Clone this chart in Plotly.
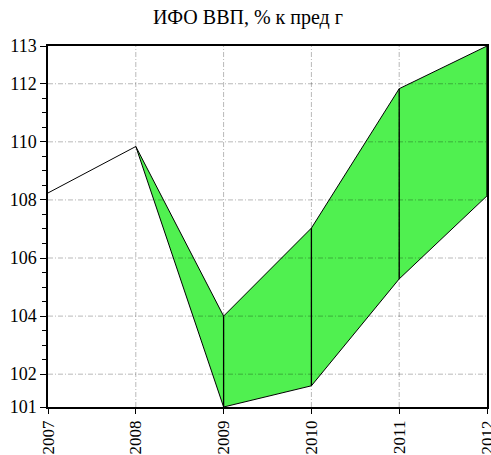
import numpy as np
import plotly.graph_objects as go

years = [2007, 2008, 2009, 2010, 2011, 2012]
upper = [108.24, 109.84, 104.0, 107.03, 111.83, 113.3]
band_years = [2008, 2009, 2010, 2011, 2012]
lower = [109.84, 100.87, 101.6, 105.28, 108.14]

y_min, y_max = min(lower), max(upper)
y_grid = [102, 104, 106, 108, 110, 112]
y_tickvals = [y_min] + y_grid + [y_max]
y_ticktext = ["101", "102", "104", "106", "108", "110", "112", "113"]
x_ticks = years
x_grid = [2008, 2009, 2010, 2011]

GREEN = "rgb(80,240,80)"
FONT = "Liberation Serif, Times New Roman, serif"
GRID = dict(color="rgba(0,0,0,0.28)", width=1, dash="5px,2px,1px,2px")

fig = go.Figure()
fig.add_trace(go.Scatter(x=band_years, y=lower, mode="lines",
                         line=dict(color="black", width=1), showlegend=False,
                         hoverinfo="skip"))
fig.add_trace(go.Scatter(x=band_years, y=upper[1:], mode="lines",
                         line=dict(color="black", width=1), fill="tonexty",
                         fillcolor=GREEN, showlegend=False, hoverinfo="skip"))
fig.add_trace(go.Scatter(x=years[:2], y=upper[:2], mode="lines",
                         line=dict(color="black", width=1), showlegend=False,
                         hoverinfo="skip"))
for yr, lo, up in zip(band_years[1:], lower[1:], upper[2:]):
    fig.add_trace(go.Scatter(x=[yr, yr], y=[lo, up], mode="lines",
                             line=dict(color="black", width=1.3),
                             showlegend=False, hoverinfo="skip"))

for gv in y_grid:
    fig.add_shape(type="line", xref="paper", x0=0, x1=1, yref="y", y0=gv, y1=gv,
                  line=GRID, layer="above")
for gx in x_grid:
    fig.add_shape(type="line", xref="x", x0=gx, x1=gx, yref="paper", y0=0, y1=1,
                  line=GRID, layer="above")

minor_vals = [v for v in np.arange(102, 112.01, 0.5) if v not in y_grid]

fig.update_layout(
    width=491, height=455,
    margin=dict(l=48, r=4, t=46, b=48),
    paper_bgcolor="white", plot_bgcolor="white",
    font=dict(family=FONT, size=18, color="black"),
    title=dict(text="ИФО ВВП, % к пред г", x=0.505, xanchor="center",
               y=0.962, yanchor="middle", font=dict(family=FONT, size=20)),
    xaxis=dict(range=[2007, 2012], tickmode="array", tickvals=x_ticks,
               ticktext=[str(v) for v in x_ticks], tickangle=-90,
               showgrid=False, zeroline=False, showline=True, linecolor="black",
               linewidth=1.5, mirror=True, ticks="outside", ticklen=5,
               tickcolor="black", layer="above traces", automargin=False,
               ticklabeloverflow="allow", tickfont=dict(size=17)),
    yaxis=dict(range=[y_min, y_max], tickmode="array", tickvals=y_tickvals,
               ticktext=y_ticktext, showgrid=False, zeroline=False,
               showline=True, linecolor="black", linewidth=1.5, mirror=True,
               ticks="outside", ticklen=6, tickcolor="black",
               minor=dict(tickmode="array", tickvals=minor_vals, ticks="outside",
                          ticklen=4, tickcolor="black", showgrid=False),
               layer="above traces", automargin=False,
               ticklabeloverflow="allow", tickfont=dict(size=18)),
)

fig.write_html("out.html", config={"displayModeBar": False},
               post_script="document.body.style.margin='0';"
                           "document.body.style.overflow='hidden';")
